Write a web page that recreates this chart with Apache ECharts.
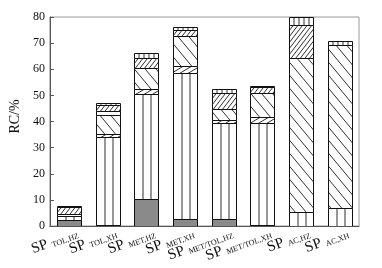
<!DOCTYPE html>
<html><head><meta charset="utf-8">
<script src="https://cdn.jsdelivr.net/npm/echarts@6/dist/echarts.min.js"></script>
<style>html,body{margin:0;padding:0;background:#fff}#c{width:382px;height:268px}</style>
</head><body><div id="c"></div>
<script>
// categories (subscript part after "SP")
var categories = ['TOL,HZ','TOL,XH','MET,HZ','MET,XH','MET/TOL,HZ','MET/TOL,XH','AC,HZ','AC,XH'];
// stacked layers, bottom to top (RC, %)
var layerGray    = [2.2, 0.3, 10.5, 2.8, 2.8, 0.3, 0, 0];
var layerVert    = [1.8, 33.9, 40.1, 55.8, 36.5, 39.2, 5.3, 7.0];
var layerSparse  = [0, 1.0, 1.8, 2.7, 1.3, 2.3, 0, 0];
var layerBack    = [0, 7.2, 8.0, 11.4, 4.0, 9.3, 59.0, 62.4];
var layerBlank   = [0.7, 1.5, 0, 0, 0, 0, 0, 0];
var layerFwd     = [2.4, 2.3, 4.0, 2.3, 6.2, 2.0, 12.8, 0];
var layerCap     = [0.4, 0.8, 1.8, 1.2, 1.6, 0.6, 3.5, 1.6];
var yTicks = [0, 80, 10];

var layers = [
  {name:'gray', vals:layerGray, kind:'gray'},
  {name:'vert', vals:layerVert, kind:'v3'},
  {name:'sparse', vals:layerSparse, kind:'sparse'},
  {name:'back', vals:layerBack, kind:'back'},
  {name:'blank', vals:layerBlank, kind:'blank'},
  {name:'fwd', vals:layerFwd, kind:'fwd'},
  {name:'cap', vals:layerCap, kind:'cap'}
];

var cum = categories.map(function(){return 0;});
var seriesData = layers.map(function(L){
  return L.vals.map(function(v,i){ var lo = cum[i]; cum[i] += v; return [i, lo, cum[i]]; });
});

var LC = '#1a1a1a';
function line(x1,y1,x2,y2,lw){ return {type:'line', silent:true, shape:{x1:x1,y1:y1,x2:x2,y2:y2}, style:{stroke:LC, lineWidth:lw||0.9}}; }
function diag(x,y,w,h,s,d,dir,off,out){
  for (var c = -s*w + (off||0); c <= h + s*w; c += d){
    var tmin,tmax;
    if (dir===1){ tmin=Math.max(0,-c/s); tmax=Math.min(w,(h-c)/s); }
    else { tmin=Math.max(0,(c-h)/s); tmax=Math.min(w,c/s); }
    if (tmax - tmin > 0.6){
      var u1 = dir===1 ? s*tmin+c : c-s*tmin;
      var u2 = dir===1 ? s*tmax+c : c-s*tmax;
      out.push(line(x+tmin,y+u1,x+tmax,y+u2,0.9));
    }
  }
}

function makeRender(kind){
  return function(params, api){
    var cat = api.value(0), lo = api.value(1), hi = api.value(2);
    if (!(hi - lo > 0)) return;
    var top = Math.min(hi, yTicks[1]);
    var p0 = api.coord([cat, lo]), p1 = api.coord([cat, top]);
    var w = Math.round(api.size([1,0])[0]*0.61);
    var x = Math.round(p0[0] - w/2) + 0.5;
    var yb = Math.round(p0[1]) + 0.5, yt = Math.round(p1[1]) + 0.5;
    var h = Math.max(yb - yt, 1);
    var ch = [];
    ch.push({type:'rect', shape:{x:x,y:yt,width:w,height:h}, style:{fill: kind==='gray' ? '#8a8a8a' : '#fff', stroke:'none'}});
    if (kind==='v3'){
      for (var k=1;k<3;k++){ var xx=Math.round(x + w*k/3); ch.push(line(xx,yt,xx,yb)); }
    } else if (kind==='cap'){
      for (var k=1;k<5;k++){ var xx=Math.round(x + w*k/5); ch.push(line(xx,yt,xx,yb)); }
    } else if (kind==='back'){
      diag(x,yt,w,h,1.2,13,1,((yt)%13),ch);
    } else if (kind==='fwd'){
      diag(x,yt,w,h,1.3,6,-1,0,ch);
    } else if (kind==='sparse'){
      diag(x,yt,w,h,0.6,5,-1,0,ch);
    }
    ch.push({type:'rect', shape:{x:x,y:yt,width:w,height:h}, style:{fill:'none', stroke:'#111', lineWidth:1}});
    return {type:'group', children:ch};
  };
}

var series = layers.map(function(L, li){
  return {type:'custom', name:L.name, renderItem: makeRender(L.kind), data: seriesData[li],
          encode:{x:0, y:[1,2]}, clip:true, animation:false};
});

var chart = echarts.init(document.getElementById('c'), null, {renderer:'canvas'});
chart.setOption({
  animation:false,
  grid:{left:43, right:23, top:17, bottom:42, show:true, borderColor:'#9a9a9a', borderWidth:1},
  xAxis:{type:'category', data:categories,
    axisLine:{lineStyle:{color:'#555', width:1}},
    axisTick:{inside:true, length:4, lineStyle:{color:'#555'}},
    axisLabel:{interval:0, rotate:20, margin:10, padding:[0,-9,0,0],
      formatter:function(v){ return '{sp|SP}{sub|' + v + '}'; },
      rich:{sp:{fontFamily:'Liberation Serif', fontSize:15, color:'#111'},
            sub:{fontFamily:'Liberation Serif', fontSize:8, color:'#111', padding:[6,0,0,4]}}},
    splitLine:{show:false}},
  yAxis:{type:'value', min:yTicks[0], max:yTicks[1], interval:yTicks[2],
    name:'RC/%', nameLocation:'middle', nameGap:27,
    nameTextStyle:{fontFamily:'Liberation Serif', fontSize:14, color:'#111', padding:[0,0,0,10]},
    axisLine:{show:true, lineStyle:{color:'#555', width:1}},
    axisTick:{show:true, inside:true, length:4, lineStyle:{color:'#555'}},
    axisLabel:{fontFamily:'Liberation Serif', fontSize:12, color:'#111', margin:5},
    splitLine:{show:false}},
  series: series
});
</script></body></html>
